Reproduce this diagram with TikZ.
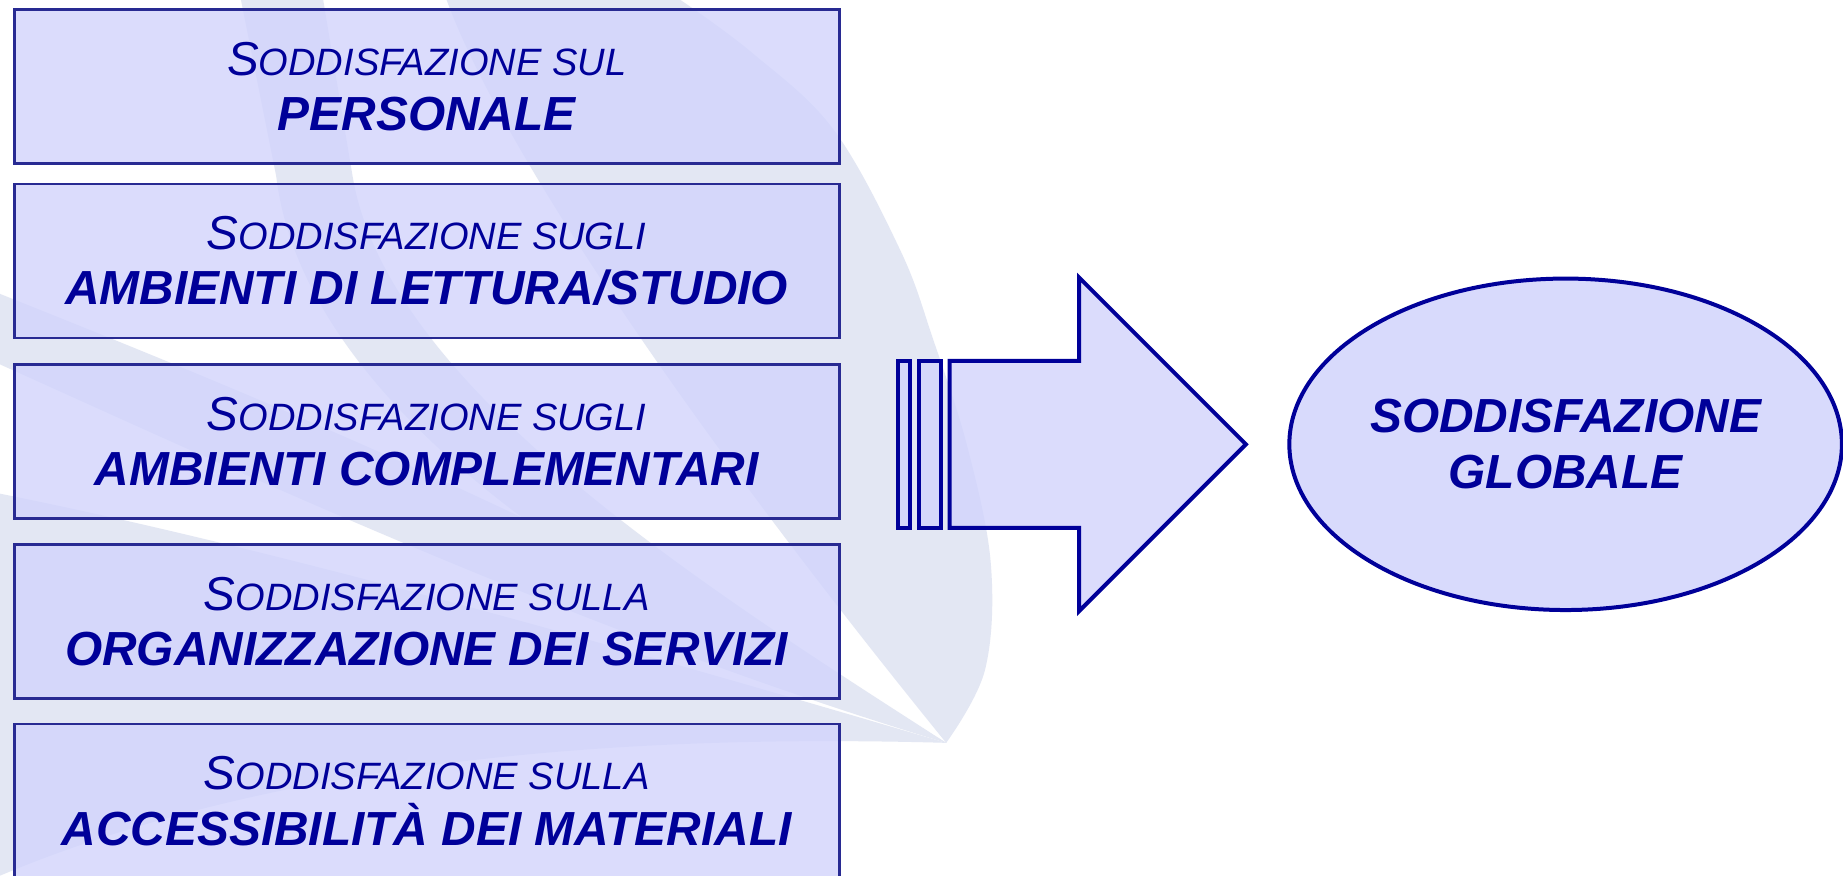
\documentclass[tikz,border=0pt]{standalone}
\usepackage{fontspec}
\setmainfont{Liberation Sans}
\usetikzlibrary{shapes.geometric}
\definecolor{navy}{RGB}{0,0,153}
\definecolor{boxline}{RGB}{40,42,146}
\definecolor{boxfill}{RGB}{210,212,252}
\definecolor{bladecol}{RGB}{227,231,243}
\newcommand\firstln[2]{{\fontsize{20.25}{23.5}\selectfont\itshape #1}{\fontsize{16.2}{23.5}\selectfont\itshape #2}}
\newcommand\secondln[1]{{\fontsize{20.35}{23.5}\selectfont\bfseries\itshape #1}}
\tikzset{
  sbox/.style={draw=boxline, line width=1.2pt, fill=boxfill, fill opacity=0.8, text opacity=1,
    minimum width=351pt, minimum height=65.5pt, inner sep=0pt, align=center, text=navy,
    font=\fontsize{20.35}{23.5}\selectfont},
  bigarrow/.style={draw=navy, line width=1.7pt, fill=boxfill, fill opacity=0.8, line join=miter},
  globst/.style={ellipse, draw=navy, line width=1.7pt, fill=boxfill, fill opacity=0.85, text opacity=1,
    minimum width=235pt, minimum height=141pt, inner sep=0pt, align=center, text=navy,
    font=\fontsize{20.35}{24}\selectfont\bfseries\itshape},
  blade/.style={fill=bladecol}
}
\begin{document}
\begin{tikzpicture}[x=0.5pt,y=-0.5pt]
\useasboundingbox (0,0) rectangle (1568,745);
\clip (0,0) rectangle (1568,745);
\fill[white] (0,0) rectangle (1568,745);
% background watermark blades
\coordinate (apex) at (805,632);
\fill[blade] plot[smooth, tension=0.6] coordinates {(805,632) (838,570) (843,480) (823,380) (794,289) (766,213) (709,110) (640,45) (579,0)}
  -- (380,0) .. controls (420,110) and (560,330) .. (apex) -- cycle;
\fill[blade] (apex) .. controls (600,500) and (330,330) .. (300,150) -- (275,0) -- (205,0)
  -- (235,150) .. controls (260,360) and (560,540) .. (apex) -- cycle;
\fill[blade] (apex) .. controls (500,450) and (200,330) .. (0,250) -- (0,310)
  .. controls (200,400) and (500,540) .. (apex) -- cycle;
\fill[blade] (apex) .. controls (560,560) and (250,470) .. (0,420) -- (0,745)
  .. controls (250,640) and (560,625) .. (apex) -- cycle;
% boxes
\node[sbox] (b1) at (363,73.5) {\firstln{S}{ODDISFAZIONE SUL}\\\secondln{PERSONALE}};
\node[sbox] (b2) at (363,222) {\firstln{S}{ODDISFAZIONE SUGLI}\\\secondln{AMBIENTI DI LETTURA/STUDIO}};
\node[sbox] (b3) at (363,375.5) {\firstln{S}{ODDISFAZIONE SUGLI}\\\secondln{AMBIENTI COMPLEMENTARI}};
\node[sbox] (b4) at (363,529) {\firstln{S}{ODDISFAZIONE SULLA}\\\secondln{ORGANIZZAZIONE DEI SERVIZI}};
\node[sbox] (b5) at (363,681.5) {\firstln{S}{ODDISFAZIONE SULLA}\\\secondln{ACCESSIBILITÀ DEI MATERIALI}};
% block arrow
\draw[bigarrow] (764,307) rectangle (774,449);
\draw[bigarrow] (782,307) rectangle (801,449);
\draw[bigarrow] (808,307) -- (918,307) -- (918,236) -- (1060,378) -- (918,520) -- (918,449) -- (808,449) -- cycle;
% ellipse
\node[globst] (glob) at (1332,378) {SODDISFAZIONE\\GLOBALE};
\end{tikzpicture}
\end{document}
